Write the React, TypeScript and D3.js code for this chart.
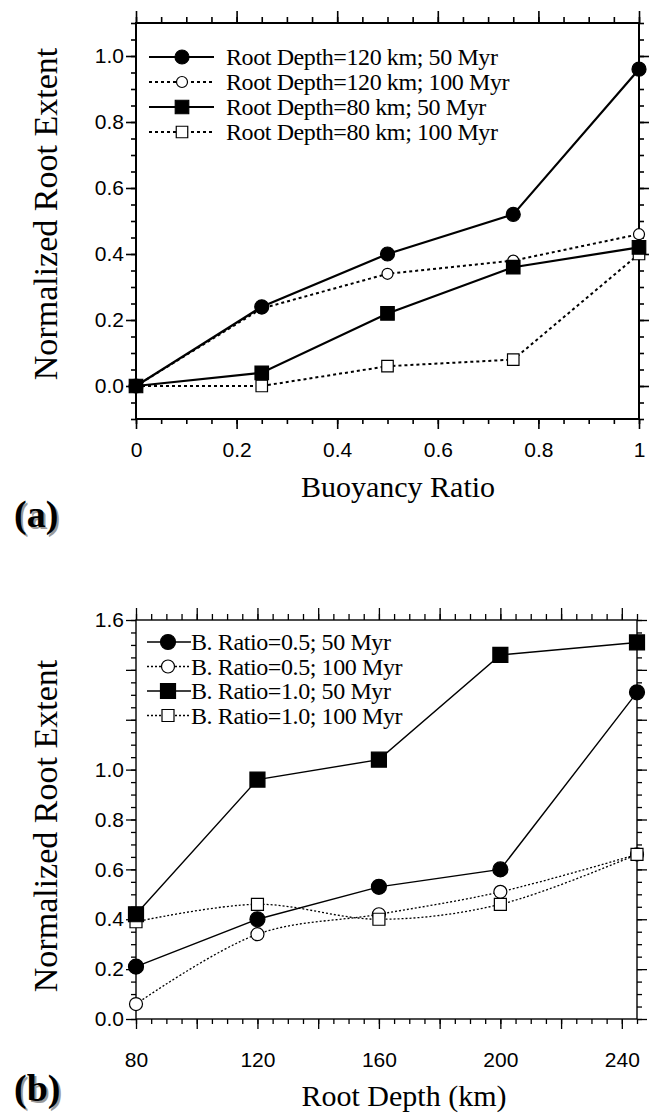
import React, { useRef, useEffect } from "react";
import * as d3 from "d3";

// panel (a): root extent vs buoyancy ratio
const buoyancyRatio = [0, 0.25, 0.5, 0.75, 1];
const depth120Age50 = [0, 0.24, 0.4, 0.52, 0.96];
const depth120Age100 = [0, 0.235, 0.34, 0.38, 0.46];
const depth80Age50 = [0, 0.04, 0.22, 0.36, 0.42];
const depth80Age100 = [0, 0, 0.06, 0.08, 0.4];
const topLegend = [
  "Root Depth=120 km; 50 Myr",
  "Root Depth=120 km; 100 Myr",
  "Root Depth=80 km; 50 Myr",
  "Root Depth=80 km; 100 Myr",
];
const topXTicks = [0, 0.2, 0.4, 0.6, 0.8, 1];
const topXLabels = ["0", "0.2", "0.4", "0.6", "0.8", "1"];
const topYTicks = [0, 0.2, 0.4, 0.6, 0.8, 1];
const topYLabels = ["0.0", "0.2", "0.4", "0.6", "0.8", "1.0"];

// panel (b): root extent vs root depth
const rootDepth = [80, 120, 160, 200, 245];
const ratio05Age50 = [0.21, 0.4, 0.53, 0.6, 1.31];
const ratio05Age100 = [0.06, 0.34, 0.42, 0.51, 0.66];
const ratio10Age50 = [0.42, 0.96, 1.04, 1.46, 1.51];
const ratio10Age100 = [0.39, 0.46, 0.4, 0.46, 0.66];
const bottomLegend = [
  "B. Ratio=0.5; 50 Myr",
  "B. Ratio=0.5; 100 Myr",
  "B. Ratio=1.0; 50 Myr",
  "B. Ratio=1.0; 100 Myr",
];
const bottomXTicks = [80, 120, 160, 200, 240];
const bottomXLabels = ["80", "120", "160", "200", "240"];
const bottomYTicks = [0, 0.2, 0.4, 0.6, 0.8, 1.0, 1.6];
const bottomYLabels = ["0.0", "0.2", "0.4", "0.6", "0.8", "1.0", "1.6"];

const SANS = "'Liberation Sans', Arial, Helvetica, sans-serif";
const SERIF = "'Liberation Serif', 'Times New Roman', serif";

function marker(shape, size) {
  return d3
    .symbol()
    .type(shape === "circle" ? d3.symbolCircle : d3.symbolSquare)
    .size(shape === "circle" ? Math.PI * size * size : size * size)();
}

function drawPanel(svg, p) {
  const g = svg.append("g");
  const { x, y } = p;
  const [l, r] = x.range();
  const [b, t] = y.range();

  // ticks, all pointing outward
  const tickAxis = (fn, scale, values, size, fmt, pad, tx, ty) => {
    const a = g
      .append("g")
      .attr("transform", `translate(${tx},${ty})`)
      .call(
        fn(scale)
          .tickValues(values)
          .tickSize(size)
          .tickSizeOuter(0)
          .tickPadding(pad)
          .tickFormat(fmt)
      );
    a.select(".domain").remove();
    a.selectAll("line").attr("stroke", "#000").attr("stroke-width", p.tickWidth);
    a.selectAll("text")
      .attr("font-family", SANS)
      .attr("font-size", 21)
      .attr("fill", "#000");
    return a;
  };
  const none = () => "";
  const xFmt = (d) => {
    const i = p.xTicks.findIndex((v) => Math.abs(v - d) < 1e-6);
    return i >= 0 ? p.xLabels[i] : "";
  };
  const yFmt = (d) => {
    const i = p.yTicks.findIndex((v) => Math.abs(v - d) < 1e-6);
    return i >= 0 ? p.yLabels[i] : "";
  };

  tickAxis(d3.axisBottom, x, p.xMinor, 5, none, 0, 0, b);
  tickAxis(d3.axisTop, x, p.xMinor, 6, none, 0, 0, t);
  tickAxis(d3.axisLeft, y, p.yMinor, 5, none, 0, l, 0);
  tickAxis(d3.axisRight, y, p.yMinor, 5, none, 0, r, 0);
  tickAxis(d3.axisBottom, x, p.xMajor, 10, xFmt, p.xPad, 0, b);
  tickAxis(d3.axisTop, x, p.xMajor, 12, none, 0, 0, t);
  tickAxis(d3.axisLeft, y, p.yMajor, 10, yFmt, 2, l, 0);
  tickAxis(d3.axisRight, y, p.yMajor, 10, none, 0, r, 0);

  g.append("rect")
    .attr("x", l)
    .attr("y", t)
    .attr("width", r - l)
    .attr("height", b - t)
    .attr("fill", "none")
    .attr("stroke", "#000")
    .attr("stroke-width", p.frameWidth);

  // series: dotted ones underneath
  const order = [...p.series].sort((a, c) => (c.dashed ? 1 : 0) - (a.dashed ? 1 : 0));
  order.forEach((s) => {
    const pts = p.xs.map((v, i) => [x(v), y(s.values[i])]);
    const gen = d3.line().curve(s.dashed ? p.dashCurve : d3.curveLinear);
    g.append("path")
      .attr("d", gen(pts))
      .attr("fill", "none")
      .attr("stroke", "#000")
      .attr("stroke-width", s.dashed ? p.dashWidth : p.lineWidth)
      .attr("stroke-dasharray", s.dashed ? p.dash : null);
    g.selectAll(null)
      .data(pts)
      .join("path")
      .attr("transform", (d) => `translate(${d[0]},${d[1]})`)
      .attr("d", marker(s.shape, s.size))
      .attr("fill", s.filled ? "#000" : "#fff")
      .attr("stroke", "#000")
      .attr("stroke-width", 1.2);
  });

  // legend
  const lg = p.legend;
  p.series.forEach((s, i) => {
    const cy = lg.y + i * lg.dy;
    g.append("line")
      .attr("x1", lg.x1)
      .attr("x2", lg.x2)
      .attr("y1", cy)
      .attr("y2", cy)
      .attr("stroke", "#000")
      .attr("stroke-width", s.dashed ? p.dashWidth : p.lineWidth)
      .attr("stroke-dasharray", s.dashed ? p.dash : null);
    g.append("path")
      .attr("transform", `translate(${lg.mx},${cy})`)
      .attr("d", marker(s.shape, s.size))
      .attr("fill", s.filled ? "#000" : "#fff")
      .attr("stroke", "#000")
      .attr("stroke-width", 1.2);
    g.append("text")
      .attr("x", lg.tx)
      .attr("y", cy + 8)
      .attr("font-family", SERIF)
      .attr("font-size", 24)
      .attr("letter-spacing", -0.4)
      .text(s.label);
  });

  // axis titles
  g.append("text")
    .attr("x", p.xTitle[1])
    .attr("y", p.xTitle[2])
    .attr("text-anchor", "middle")
    .attr("font-family", SERIF)
    .attr("font-size", 30)
    .text(p.xTitle[0]);
  g.append("text")
    .attr("transform", `translate(${p.yTitle[1]},${p.yTitle[2]}) rotate(-90)`)
    .attr("text-anchor", "middle")
    .attr("font-family", SERIF)
    .attr("font-size", 34)
    .text(p.yTitle[0]);

  // panel tag with drop shadow
  const tag = g.append("text")
    .attr("x", p.tag[1])
    .attr("y", p.tag[2])
    .attr("font-family", SERIF)
    .attr("font-weight", "bold")
    .attr("font-size", 38)
    .attr("fill", "#000")
    .attr("style", "text-shadow: 2px 2px 0 #9a9a9a")
    .text(p.tag[0]);
}

export default function App() {
  const svgRef = useRef(null);

  useEffect(() => {
    const svg = d3.select(svgRef.current);
    svg.selectAll("*").remove();

    drawPanel(svg, {
      x: d3.scaleLinear().domain([0, 1]).range([136, 639]),
      y: d3.scaleLinear().domain([-0.1, 1.1]).range([419, 23]),
      xs: buoyancyRatio,
      xMinor: d3.range(0, 1.0001, 0.05),
      xMajor: d3.range(0, 1.0001, 0.2),
      yMinor: d3.range(-0.1, 1.1001, 0.05),
      yMajor: d3.range(0, 1.0001, 0.2),
      xTicks: topXTicks,
      xLabels: topXLabels,
      yTicks: topYTicks,
      yLabels: topYLabels,
      xPad: 13,
      tickWidth: 1.6,
      frameWidth: 2,
      lineWidth: 2.2,
      dashWidth: 2,
      dash: "3,3",
      dashCurve: d3.curveLinear,
      series: [
        { values: depth120Age50, label: topLegend[0], shape: "circle", size: 7, filled: true, dashed: false },
        { values: depth120Age100, label: topLegend[1], shape: "circle", size: 5.5, filled: false, dashed: true },
        { values: depth80Age50, label: topLegend[2], shape: "square", size: 13.5, filled: true, dashed: false },
        { values: depth80Age100, label: topLegend[3], shape: "square", size: 11.5, filled: false, dashed: true },
      ],
      legend: { y: 57, dy: 25, x1: 149, x2: 214, mx: 182, tx: 226 },
      xTitle: ["Buoyancy Ratio", 398, 497],
      yTitle: ["Normalized Root Extent", 57, 214],
      tag: ["(a)", 14, 527],
    });

    drawPanel(svg, {
      x: d3.scaleLinear().domain([80, 245]).range([136, 637]),
      y: d3.scaleLinear().domain([0, 1.6]).range([1019, 620]),
      xs: rootDepth,
      xMinor: d3.range(80, 245.001, 5),
      xMajor: d3.range(80, 241, 20),
      yMinor: d3.range(0, 1.6001, 0.05),
      yMajor: d3.range(0, 1.6001, 0.2),
      xTicks: bottomXTicks,
      xLabels: bottomXLabels,
      yTicks: bottomYTicks,
      yLabels: bottomYLabels,
      xPad: 23,
      tickWidth: 1.3,
      frameWidth: 1.4,
      lineWidth: 1.4,
      dashWidth: 1.3,
      dash: "2,2",
      dashCurve: d3.curveCatmullRom.alpha(0.5),
      series: [
        { values: ratio05Age50, label: bottomLegend[0], shape: "circle", size: 7.5, filled: true, dashed: false },
        { values: ratio05Age100, label: bottomLegend[1], shape: "circle", size: 6.5, filled: false, dashed: true },
        { values: ratio10Age50, label: bottomLegend[2], shape: "square", size: 15, filled: true, dashed: false },
        { values: ratio10Age100, label: bottomLegend[3], shape: "square", size: 12, filled: false, dashed: true },
      ],
      legend: { y: 642, dy: 24.5, x1: 147, x2: 191, mx: 168, tx: 191 },
      xTitle: ["Root Depth (km)", 404, 1106],
      yTitle: ["Normalized Root Extent", 57, 826],
      tag: ["(b)", 14, 1101],
    });
  }, []);

  return (
    <div style={{ position: "absolute", left: 0, top: 0 }}>
      <svg ref={svgRef} width={655} height={1115} style={{ display: "block", background: "#fff" }} />
    </div>
  );
}
